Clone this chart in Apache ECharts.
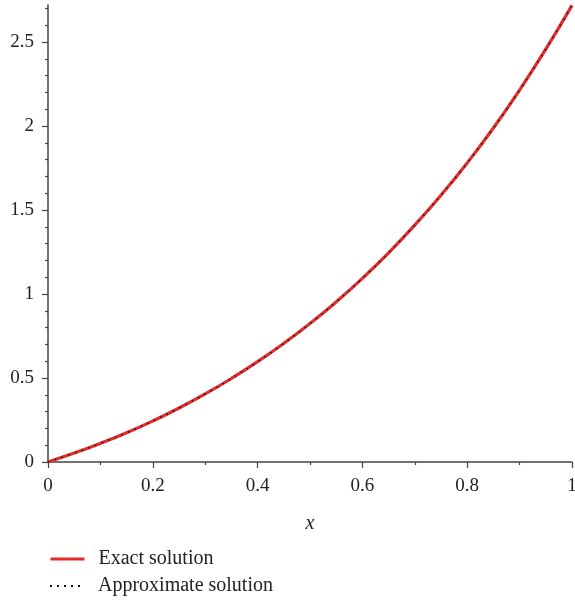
<!DOCTYPE html>
<html>
<head>
<meta charset="utf-8">
<script src="https://cdn.jsdelivr.net/npm/echarts@6/dist/echarts.min.js"></script>
<style>
  html, body { margin: 0; padding: 0; background: #fff; }
  #chart { width: 575px; height: 601px; }
</style>
</head>
<body>
<div id="chart"></div>
<script>
const xValues = [0, 0.05, 0.1, 0.15, 0.2, 0.25, 0.3, 0.35, 0.4, 0.45, 0.5,
  0.55, 0.6, 0.65, 0.7, 0.75, 0.8, 0.85, 0.9, 0.95, 1]
const exactValues = [0, 0.053, 0.111, 0.174, 0.244, 0.321, 0.405, 0.497, 0.597, 0.706, 0.824,
  0.953, 1.093, 1.245, 1.41, 1.588, 1.78, 1.988, 2.214, 2.457, 2.718]
const approxValues = [0, 0.053, 0.111, 0.174, 0.244, 0.321, 0.405, 0.497, 0.597, 0.706, 0.824,
  0.953, 1.093, 1.245, 1.41, 1.588, 1.78, 1.988, 2.214, 2.457, 2.718]
const yMajorTicks = [0, 0.5, 1, 1.5, 2, 2.5]
const yMinorTicks = [0.1, 0.2, 0.3, 0.4, 0.6, 0.7, 0.8, 0.9, 1.1, 1.2, 1.3, 1.4,
  1.6, 1.7, 1.8, 1.9, 2.1, 2.2, 2.3, 2.4, 2.6, 2.7]

const font = '"Liberation Serif", "DejaVu Serif", serif'
const axisColor = '#444'
const textColor = '#222'

// one legend per entry so they stack like the original
function legendAt(name, top, lineStyle) {
  return {
    left: 44,
    top: top,
    itemWidth: 34,
    itemHeight: 14,
    itemStyle: { opacity: 0 },
    lineStyle: lineStyle,
    textStyle: { fontFamily: font, fontSize: 20, color: textColor, padding: [0, 0, 0, 9] },
    data: [name]
  }
}

const chart = echarts.init(document.getElementById('chart'))
chart.setOption({
  animation: false,
  grid: { left: 48, right: 3, top: 5, bottom: 139, outerBoundsMode: 'none' },
  legend: [
    legendAt('Exact solution', 544, { width: 3 }),
    legendAt('Approximate solution', 571, { width: 2, color: '#111', type: [2, 5] })
  ],
  xAxis: {
    type: 'value',
    min: 0,
    max: 1,
    interval: 0.2,
    name: 'x',
    nameLocation: 'middle',
    nameGap: 52,
    nameTextStyle: { fontFamily: font, fontSize: 20, fontStyle: 'italic', color: textColor },
    axisLine: { lineStyle: { color: axisColor, width: 1.5 } },
    axisTick: { length: 6, lineStyle: { color: axisColor, width: 1.2 } },
    minorTick: { show: true, splitNumber: 2, length: 3, lineStyle: { color: axisColor, width: 1.2 } },
    axisLabel: { fontFamily: font, fontSize: 19, color: textColor, margin: 15 },
    splitLine: { show: false }
  },
  yAxis: [
    {
      type: 'value',
      min: 0,
      max: 2.72,
      axisLine: { show: true, lineStyle: { color: axisColor, width: 1.5 } },
      axisTick: { show: true, length: 6, customValues: yMajorTicks, lineStyle: { color: axisColor, width: 1.2 } },
      axisLabel: { fontFamily: font, fontSize: 19, color: textColor, margin: 14, customValues: yMajorTicks },
      splitLine: { show: false }
    },
    {
      type: 'value',
      min: 0,
      max: 2.72,
      position: 'left',
      axisLine: { show: false },
      axisTick: { show: true, length: 3, customValues: yMinorTicks, lineStyle: { color: axisColor, width: 1.2 } },
      axisLabel: { show: false },
      splitLine: { show: false }
    }
  ],
  series: [
    {
      name: 'Exact solution',
      type: 'line',
      smooth: true,
      showSymbol: false,
      symbol: 'none',
      color: '#e52b2b',
      lineStyle: { color: '#e52b2b', width: 3.2 },
      data: xValues.map((x, i) => [x, exactValues[i]])
    },
    {
      name: 'Approximate solution',
      type: 'line',
      smooth: true,
      showSymbol: false,
      symbol: 'none',
      color: '#222',
      lineStyle: { color: '#222', width: 1.6, type: [1.6, 5.5] },
      data: xValues.map((x, i) => [x, approxValues[i]])
    }
  ]
})
</script>
</body>
</html>
